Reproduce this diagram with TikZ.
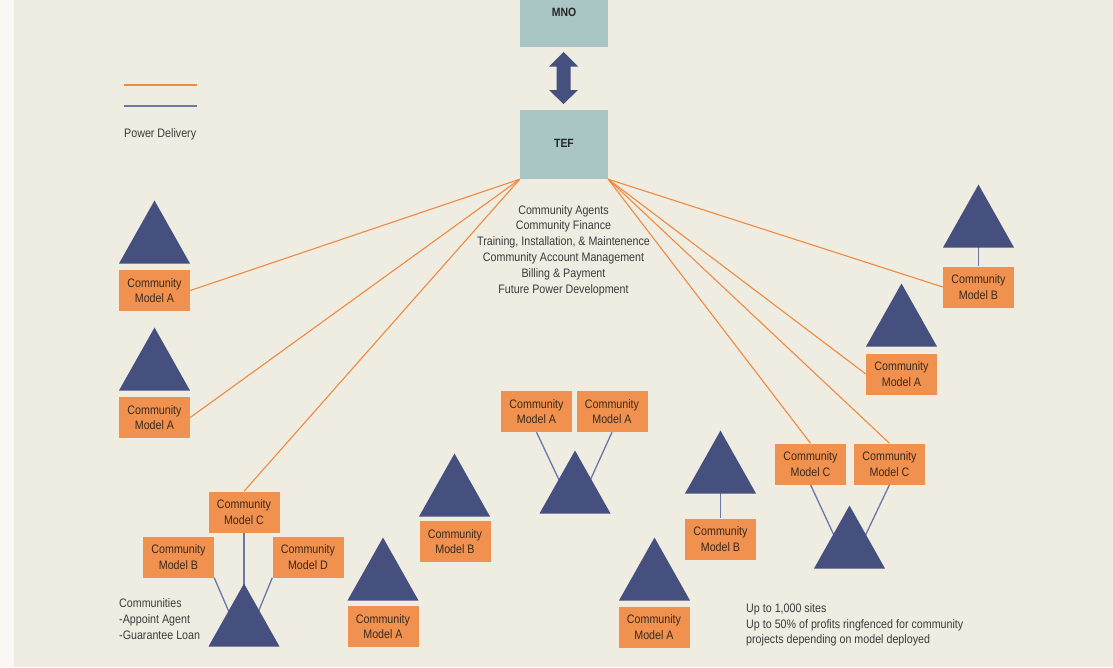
\documentclass[tikz,border=0pt]{standalone}
\usepackage{fontspec}
\setmainfont{Liberation Sans}[FakeStretch=0.87]
\usetikzlibrary{shapes.geometric,calc}

\definecolor{paper}{HTML}{EFECE1}
\definecolor{margin}{HTML}{F9F8F4}
\definecolor{hubteal}{HTML}{A9C6C4}
\definecolor{sitenavy}{HTML}{46507F}
\definecolor{boxorange}{HTML}{F0914F}
\definecolor{feedorange}{HTML}{F08A40}
\definecolor{tieblue}{HTML}{6B77A8}
\definecolor{inkgray}{HTML}{3B3B3B}
\definecolor{boxink}{HTML}{3A2A1C}

\pgfdeclarelayer{backdrop}
\pgfdeclarelayer{wires}
\pgfsetlayers{backdrop,wires,main}

\begin{document}
\begin{tikzpicture}[x=1pt,y=-1pt,
  modelbox/.style={rectangle, fill=boxorange, minimum width=71pt, minimum height=41pt,
    inner sep=0pt, align=center, text=boxink, font=\fontsize{12.3}{15.8}\selectfont},
  site/.style={isosceles triangle, isosceles triangle stretches, shape border rotate=90,
    minimum width=71pt, minimum height=63pt, inner sep=0pt, fill=sitenavy, anchor=apex},
  hub/.style={rectangle, fill=hubteal, minimum width=88pt, inner sep=0pt},
  hubtext/.style={font=\bfseries\fontsize{12}{14}\selectfont, text=black!85},
  feed/.style={draw=feedorange, line width=1.1pt},
  tie/.style={draw=tieblue, line width=1.3pt},
  note/.style={align=left, text=inkgray, inner sep=0pt, font=\fontsize{12.3}{15.8}\selectfont},
]

% page background and left margin strip
\begin{pgfonlayer}{backdrop}
  \fill[paper] (0,0) rectangle (1113,667);
  \fill[margin] (0,0) rectangle (14,667);
\end{pgfonlayer}
\useasboundingbox (0,0) rectangle (1113,667);

% operator and energy company
\node[hub, minimum height=47pt] (mno) at (564,23.5) {};
\node[hubtext] (mnolabel) at (564,12) {MNO};
\node[hub, minimum height=69pt] (tef) at (564,144.5) {};
\node[hubtext] (teflabel) at (564,143) {TEF};

% two-way link between them
\fill[sitenavy] (563.5,52) -- (578,66.5) -- (570.5,66.5) -- (570.5,90) -- (578,90)
  -- (563.5,104) -- (549,90) -- (556.5,90) -- (556.5,66.5) -- (549,66.5) -- cycle;

% legend
\coordinate (lo1) at (124,85);  \coordinate (lo2) at (197,85);
\coordinate (lb1) at (124,106); \coordinate (lb2) at (197,106);
\draw[feed] (lo1) -- (lo2);
\draw[tie] (lb1) -- (lb2);
\node[note, anchor=west] (legendtext) at (124,134) {Power Delivery};

% services offered by TEF
\node[note, align=center] (services) at (563.5,250.5)
  {Community Agents\\Community Finance\\Training, Installation, \& Maintenence\\
   Community Account Management\\Billing \& Payment\\Future Power Development};

% sites (triangles)
\node[site] (tL1) at (154.5,200) {};
\node[site] (tL2) at (154.5,327) {};
\node[site] (tBL) at (244,583) {};
\node[site] (tMB) at (454.5,453) {};
\node[site] (tMA) at (383,537) {};
\node[site] (tC)  at (575,450) {};
\node[site] (tRB) at (720.5,430) {};
\node[site] (tRA) at (654.5,537) {};
\node[site] (tCC) at (849.5,505) {};
\node[site] (tFB) at (978.5,184) {};
\node[site] (tFA) at (901.5,283) {};

% community models (boxes)
\node[modelbox] (bL1) at (154.5,290.5) {Community\\Model A};
\node[modelbox] (bL2) at (154.5,417.5) {Community\\Model A};
\node[modelbox] (bBC) at (244,512) {Community\\Model C};
\node[modelbox] (bBB) at (178.5,557) {Community\\Model B};
\node[modelbox] (bBD) at (308,557) {Community\\Model D};
\node[modelbox] (bMB) at (455,541.5) {Community\\Model B};
\node[modelbox] (bMA) at (383,626.5) {Community\\Model A};
\node[modelbox] (bC1) at (536.5,411.5) {Community\\Model A};
\node[modelbox] (bC2) at (612,411.5) {Community\\Model A};
\node[modelbox] (bRB) at (720.5,539) {Community\\Model B};
\node[modelbox] (bRA) at (654,627) {Community\\Model A};
\node[modelbox] (bK1) at (810.5,464) {Community\\Model C};
\node[modelbox] (bK2) at (889.5,464) {Community\\Model C};
\node[modelbox] (bFB) at (978.5,287) {Community\\Model B};
\node[modelbox] (bFA) at (901.5,374) {Community\\Model A};

% power delivery ties, drawn beneath the triangles and aimed at their bases
\begin{pgfonlayer}{wires}
  \draw[tie] (bBC.south) -- ($(tBL.apex)!0.5!(tBL.lower side)$);
  \draw[tie] (bBB.south east) -- ($(bBB.south east)!0.8!(tBL.lower side)$);
  \draw[tie] (bBD.south west) -- ($(bBD.south west)!0.8!(tBL.lower side)$);
  \draw[tie] (bC1.south) -- ($(bC1.south)!0.8!(tC.lower side)$);
  \draw[tie] (bC2.south) -- ($(bC2.south)!0.8!(tC.lower side)$);
  \draw[tie] (bK1.south) -- ($(bK1.south)!0.8!(tCC.lower side)$);
  \draw[tie] (bK2.south) -- ($(bK2.south)!0.8!(tCC.lower side)$);
  \draw[tie] ($(tRB.apex)!0.5!(tRB.lower side)$) -- (bRB.north);
  \draw[tie] ($(tFB.apex)!0.5!(tFB.lower side)$) -- (bFB.north);
\end{pgfonlayer}

% TEF service links
\draw[feed] (tef.south west) -- (bL1.east);
\draw[feed] (tef.south west) -- (bL2.east);
\draw[feed] (tef.south west) -- (bBC.north);
\draw[feed] (tef.south east) -- (bFB.west);
\draw[feed] (tef.south east) -- (bFA.west);
\draw[feed] (tef.south east) -- (bK1.north);
\draw[feed] (tef.south east) -- (bK2.north);

% notes
\node[note, anchor=west] (communities) at (119,619)
  {Communities\\-Appoint Agent\\-Guarantee Loan};
\node[note, anchor=west] (sites) at (746,625)
  {Up to 1,000 sites\\Up to 50\% of profits ringfenced for community\\projects depending on model deployed};

\end{tikzpicture}
\end{document}
